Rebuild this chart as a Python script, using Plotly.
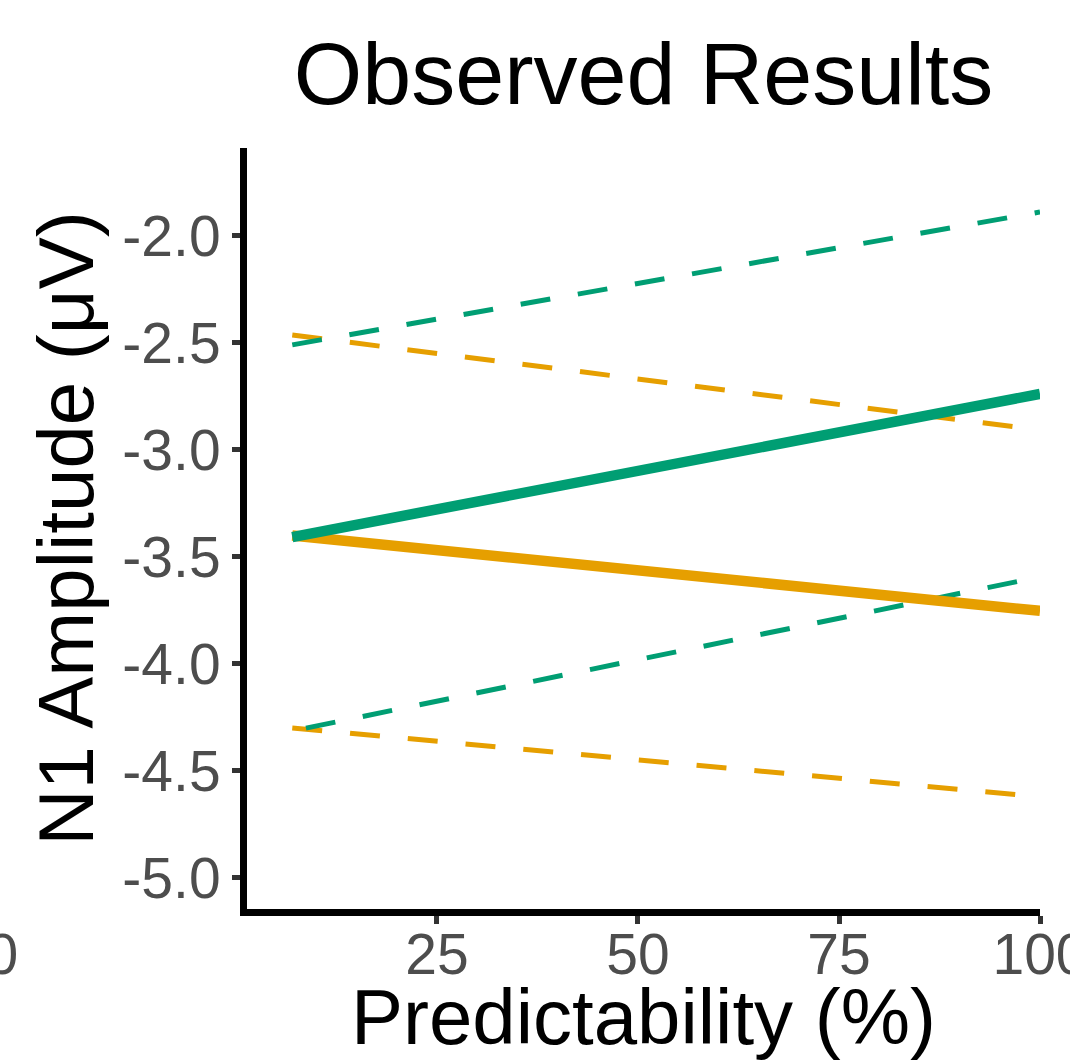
import plotly.graph_objects as go

# Data
x_start = 7.0
x_start_low_green = 8.7
x_end = 100.0

green_fit = [-3.407, -2.738]
orange_fit = [-3.400, -3.752]
green_upper = [-2.509, -1.888]
green_lower = [-4.300, -3.593]
orange_upper = [-2.463, -2.907]
orange_lower = [-4.299, -4.621]

x_ticks = [25, 50, 75, 100]
y_ticks = [-2.0, -2.5, -3.0, -3.5, -4.0, -4.5, -5.0]
y_ticklabels = ["-2.0", "-2.5", "-3.0", "-3.5", "-4.0", "-4.5", "-5.0"]

GREEN = "#009E73"
ORANGE = "#E69F00"
FONT = "Liberation Sans, Arial, sans-serif"

fig = go.Figure()
DASH = "30px,28px"
fig.add_trace(go.Scatter(x=[x_start, x_end], y=orange_upper, mode="lines",
                         line=dict(color=ORANGE, width=5, dash=DASH), showlegend=False))
fig.add_trace(go.Scatter(x=[x_start, x_end], y=orange_lower, mode="lines",
                         line=dict(color=ORANGE, width=5, dash=DASH), showlegend=False))
fig.add_trace(go.Scatter(x=[x_start, x_end], y=green_upper, mode="lines",
                         line=dict(color=GREEN, width=5, dash=DASH), showlegend=False))
fig.add_trace(go.Scatter(x=[x_start_low_green, x_end], y=green_lower, mode="lines",
                         line=dict(color=GREEN, width=5, dash=DASH), showlegend=False))
fig.add_trace(go.Scatter(x=[x_start, x_end], y=orange_fit, mode="lines",
                         line=dict(color=ORANGE, width=10.5), showlegend=False))
fig.add_trace(go.Scatter(x=[x_start, x_end], y=green_fit, mode="lines",
                         line=dict(color=GREEN, width=10.5), showlegend=False))

fig.update_layout(
    width=1070, height=1061,
    margin=dict(l=247, r=30, t=148, b=152, autoexpand=False),
    paper_bgcolor="white", plot_bgcolor="white",
    font=dict(family=FONT, color="black"),
    title=dict(text="Observed Results", x=0.5, xref="paper", xanchor="center",
               y=1 - 73 / 1061, yref="container", yanchor="middle",
               font=dict(size=88, color="black", family=FONT)),
    xaxis=dict(range=[1.37, 100], tickmode="array", tickvals=x_ticks,
               ticktext=[str(v) for v in x_ticks],
               showgrid=False, zeroline=False, automargin=False,
               ticklabeloverflow="allow", ticklabelstandoff=-18,
               showline=True, linecolor="black", linewidth=7,
               ticks="outside", ticklen=8, tickwidth=5, tickcolor="#333333",
               tickfont=dict(size=57, color="#4D4D4D", family=FONT),
               title=dict(text="Predictability (%)", standoff=4,
                          font=dict(size=78, color="black", family=FONT))),
    yaxis=dict(range=[-5.145, -1.589], tickmode="array", tickvals=y_ticks,
               ticktext=y_ticklabels,
               showgrid=False, zeroline=False, automargin=False,
               ticklabeloverflow="allow",
               showline=True, linecolor="black", linewidth=7,
               ticks="outside", ticklen=8, tickwidth=5, tickcolor="#333333",
               tickfont=dict(size=57, color="#4D4D4D", family=FONT),
               title=dict(text="N1 Amplitude (μV)", standoff=6,
                          font=dict(size=78, color="black", family=FONT))),
)

# Clipped tick label from a neighbouring panel at the far left edge
fig.add_annotation(text="100", xref="paper", yref="paper",
                   x=(20 - 247) / 793, y=(909 - 954) / 761,
                   xanchor="right", yanchor="middle", showarrow=False,
                   font=dict(size=57, color="#4D4D4D", family=FONT))

fig.write_html("out.html")
